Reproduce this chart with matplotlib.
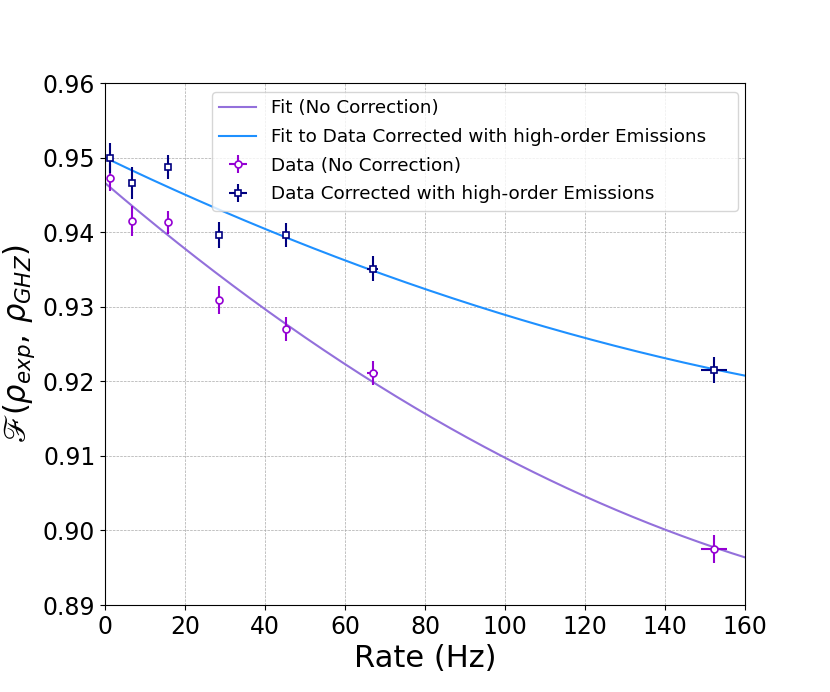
import numpy as np
import matplotlib
matplotlib.use("Agg")
import matplotlib.pyplot as plt

# Data
rate_nc = [1.3, 6.75, 15.75, 28.4, 45.25, 66.9, 152.3]
fid_nc = [0.9473, 0.9415, 0.9413, 0.9309, 0.9270, 0.9211, 0.8975]
fid_nc_err = [0.0018, 0.0020, 0.0015, 0.0019, 0.0016, 0.0016, 0.0019]

rate_corr = [1.3, 6.75, 15.75, 28.4, 45.25, 66.9, 152.3]
fid_corr = [0.9499, 0.9466, 0.9487, 0.9396, 0.9396, 0.9351, 0.9215]
fid_corr_err = [0.0020, 0.0021, 0.0016, 0.0017, 0.0016, 0.0017, 0.0017]

rate_err = [0.1, 0.2, 0.3, 0.4, 0.5, 1.4, 3.2]

# Fit coefficients (quadratic, highest order last)
fit_nc_coef = [0.9466, -4.596e-4, 9.11e-7]
fit_corr_coef = [0.9500, -2.578e-4, 4.689e-7]

xticks = [0, 20, 40, 60, 80, 100, 120, 140, 160]
yticks = [0.89, 0.90, 0.91, 0.92, 0.93, 0.94, 0.95, 0.96]

fig = plt.figure(figsize=(8.3, 6.92), dpi=100)
ax = fig.add_axes([0.1265, 0.1257, 0.8976 - 0.1265, 0.880 - 0.1257])

xf = np.linspace(0, 165, 400)
yf_nc = np.polyval(fit_nc_coef[::-1], xf)
yf_corr = np.polyval(fit_corr_coef[::-1], xf)

ax.plot(xf, yf_nc, color='mediumpurple', lw=1.5, label='Fit (No Correction)')
ax.plot(xf, yf_corr, color='dodgerblue', lw=1.5,
        label='Fit to Data Corrected with high-order Emissions')

ax.errorbar(rate_nc, fid_nc, yerr=fid_nc_err, xerr=rate_err, fmt='o',
            color='darkviolet', mfc='white', mec='darkviolet', ms=5, mew=1.2,
            elinewidth=1.5, capsize=0, label='Data (No Correction)', zorder=3)
ax.errorbar(rate_corr, fid_corr, yerr=fid_corr_err, xerr=rate_err, fmt='s',
            color='navy', mfc='white', mec='navy', ms=5, mew=1.2,
            elinewidth=1.5, capsize=0,
            label='Data Corrected with high-order Emissions', zorder=3)

ax.set_xlim(0, 160)
ax.set_ylim(0.89, 0.96)
ax.set_xticks(xticks)
ax.set_yticks(yticks)
ax.set_yticklabels([f'{v:.2f}' for v in yticks])
ax.tick_params(labelsize=17)
ax.grid(True, linestyle='--', linewidth=0.5, color='#aaaaaa')
ax.set_axisbelow(True)

ax.set_xlabel('Rate (Hz)', fontsize=22)
ax.set_ylabel(r'$\mathscr{F}(\rho_{exp},\,\rho_{GHZ})$', fontsize=22)

ax.legend(loc='upper left', fontsize=13.2, mode='expand',
          bbox_to_anchor=(0.1672, 0.5, 0.8219, 0.4828), borderaxespad=0,
          labelspacing=0.58)

fig.savefig('out.png', dpi=100)
